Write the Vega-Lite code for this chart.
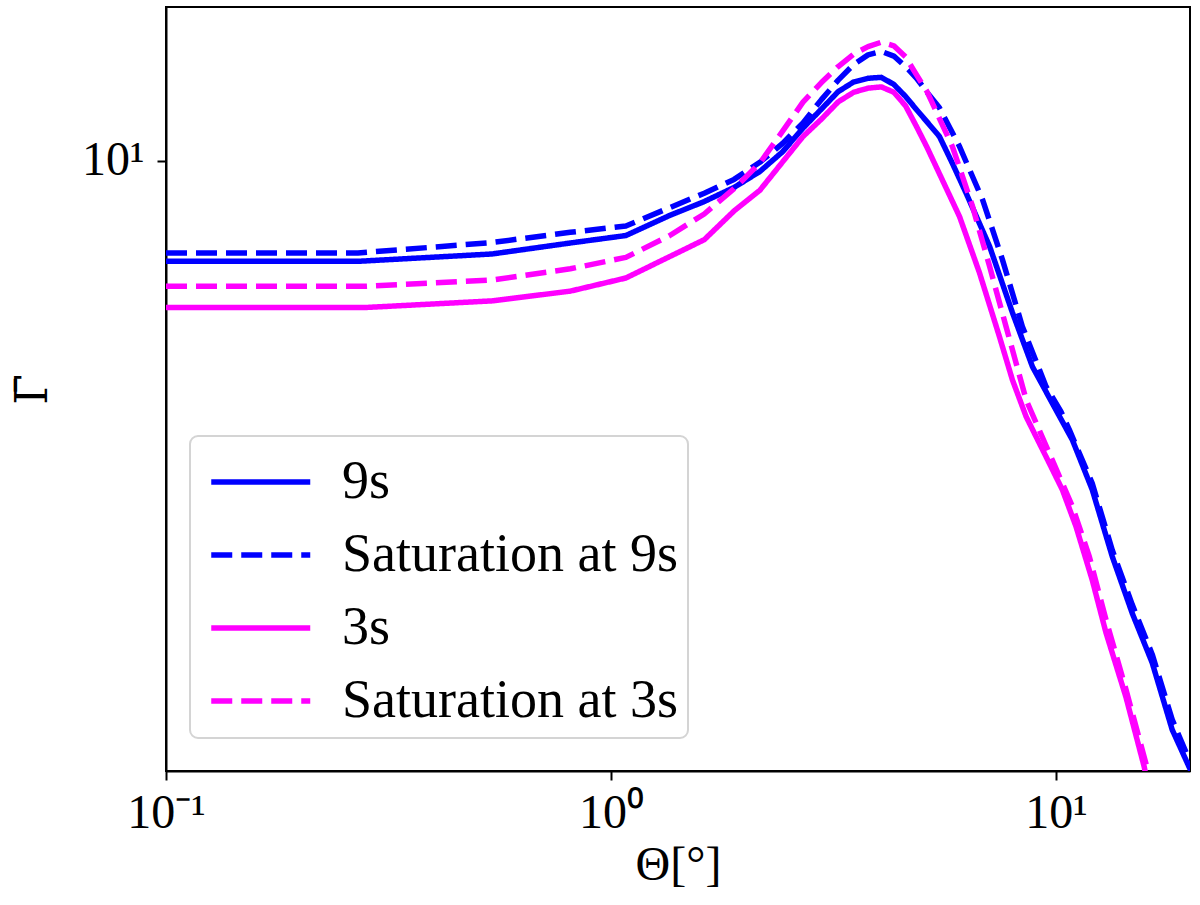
{
  "$schema": "https://vega.github.io/schema/vega-lite/v6.json",
  "width": 1024,
  "height": 764,
  "autosize": {"type": "none"},
  "padding": {"left": 166, "top": 7, "right": 10, "bottom": 134},
  "background": "white",
  "config": {
    "view": {"stroke": "black", "strokeWidth": 2},
    "axis": {
      "grid": false,
      "domainColor": "black",
      "domainWidth": 2,
      "tickColor": "black",
      "tickWidth": 2,
      "tickSize": 9,
      "labelFont": "Liberation Serif",
      "labelFontSize": 48,
      "labelColor": "black",
      "labelFlush": false,
      "labelOverlap": false,
      "titleFont": "Liberation Serif",
      "titleFontSize": 48,
      "titleFontWeight": "normal",
      "titleColor": "black"
    },
    "legend": {
      "labelFont": "Liberation Serif",
      "labelFontSize": 54,
      "labelColor": "black"
    }
  },
  "data": {
    "values": [
      {"series": "9s", "theta": 0.1, "gamma": 7.67},
      {"series": "9s", "theta": 0.27, "gamma": 7.67},
      {"series": "9s", "theta": 0.54, "gamma": 7.82},
      {"series": "9s", "theta": 0.81, "gamma": 8.05},
      {"series": "9s", "theta": 1.08, "gamma": 8.21},
      {"series": "9s", "theta": 1.35, "gamma": 8.65},
      {"series": "9s", "theta": 1.62, "gamma": 8.98},
      {"series": "9s", "theta": 1.89, "gamma": 9.32},
      {"series": "9s", "theta": 2.16, "gamma": 9.72},
      {"series": "9s", "theta": 2.43, "gamma": 10.24},
      {"series": "9s", "theta": 2.7, "gamma": 10.9},
      {"series": "9s", "theta": 2.97, "gamma": 11.46},
      {"series": "9s", "theta": 3.24, "gamma": 12.0},
      {"series": "9s", "theta": 3.51, "gamma": 12.31},
      {"series": "9s", "theta": 3.78, "gamma": 12.43},
      {"series": "9s", "theta": 4.05, "gamma": 12.46},
      {"series": "9s", "theta": 4.32, "gamma": 12.23},
      {"series": "9s", "theta": 4.59, "gamma": 11.85},
      {"series": "9s", "theta": 4.86, "gamma": 11.44},
      {"series": "9s", "theta": 5.13, "gamma": 11.08},
      {"series": "9s", "theta": 5.47, "gamma": 10.66},
      {"series": "9s", "theta": 5.85, "gamma": 9.93},
      {"series": "9s", "theta": 6.28, "gamma": 9.18},
      {"series": "9s", "theta": 7.09, "gamma": 7.98},
      {"series": "9s", "theta": 7.98, "gamma": 6.7},
      {"series": "9s", "theta": 8.85, "gamma": 5.81},
      {"series": "9s", "theta": 10.17, "gamma": 5.1},
      {"series": "9s", "theta": 10.88, "gamma": 4.79},
      {"series": "9s", "theta": 12.06, "gamma": 4.2},
      {"series": "9s", "theta": 13.38, "gamma": 3.52},
      {"series": "9s", "theta": 14.84, "gamma": 3.03},
      {"series": "9s", "theta": 16.45, "gamma": 2.66},
      {"series": "9s", "theta": 18.24, "gamma": 2.23},
      {"series": "9s", "theta": 19.92, "gamma": 2.02},
      {"series": "9s", "theta": 20.5, "gamma": 1.96},

      {"series": "Saturation at 9s", "theta": 0.1, "gamma": 7.84},
      {"series": "Saturation at 9s", "theta": 0.27, "gamma": 7.84},
      {"series": "Saturation at 9s", "theta": 0.54, "gamma": 8.06},
      {"series": "Saturation at 9s", "theta": 0.81, "gamma": 8.28},
      {"series": "Saturation at 9s", "theta": 1.08, "gamma": 8.42},
      {"series": "Saturation at 9s", "theta": 1.35, "gamma": 8.83},
      {"series": "Saturation at 9s", "theta": 1.62, "gamma": 9.18},
      {"series": "Saturation at 9s", "theta": 1.89, "gamma": 9.52},
      {"series": "Saturation at 9s", "theta": 2.16, "gamma": 9.96},
      {"series": "Saturation at 9s", "theta": 2.43, "gamma": 10.47},
      {"series": "Saturation at 9s", "theta": 2.7, "gamma": 11.05},
      {"series": "Saturation at 9s", "theta": 2.97, "gamma": 11.75},
      {"series": "Saturation at 9s", "theta": 3.24, "gamma": 12.37},
      {"series": "Saturation at 9s", "theta": 3.51, "gamma": 12.89},
      {"series": "Saturation at 9s", "theta": 3.78, "gamma": 13.22},
      {"series": "Saturation at 9s", "theta": 4.05, "gamma": 13.34},
      {"series": "Saturation at 9s", "theta": 4.32, "gamma": 13.18},
      {"series": "Saturation at 9s", "theta": 4.59, "gamma": 12.82},
      {"series": "Saturation at 9s", "theta": 4.86, "gamma": 12.43},
      {"series": "Saturation at 9s", "theta": 5.13, "gamma": 11.98},
      {"series": "Saturation at 9s", "theta": 5.47, "gamma": 11.5},
      {"series": "Saturation at 9s", "theta": 6.07, "gamma": 10.38},
      {"series": "Saturation at 9s", "theta": 6.84, "gamma": 9.02},
      {"series": "Saturation at 9s", "theta": 7.58, "gamma": 7.7},
      {"series": "Saturation at 9s", "theta": 8.4, "gamma": 6.46},
      {"series": "Saturation at 9s", "theta": 9.5, "gamma": 5.51},
      {"series": "Saturation at 9s", "theta": 10.26, "gamma": 5.16},
      {"series": "Saturation at 9s", "theta": 10.71, "gamma": 4.92},
      {"series": "Saturation at 9s", "theta": 12.06, "gamma": 4.27},
      {"series": "Saturation at 9s", "theta": 13.38, "gamma": 3.58},
      {"series": "Saturation at 9s", "theta": 14.84, "gamma": 3.1},
      {"series": "Saturation at 9s", "theta": 16.45, "gamma": 2.72},
      {"series": "Saturation at 9s", "theta": 18.24, "gamma": 2.29},
      {"series": "Saturation at 9s", "theta": 19.92, "gamma": 2.06},
      {"series": "Saturation at 9s", "theta": 20.5, "gamma": 2.0},

      {"series": "3s", "theta": 0.1, "gamma": 6.79},
      {"series": "3s", "theta": 0.28, "gamma": 6.79},
      {"series": "3s", "theta": 0.54, "gamma": 6.91},
      {"series": "3s", "theta": 0.81, "gamma": 7.09},
      {"series": "3s", "theta": 1.08, "gamma": 7.34},
      {"series": "3s", "theta": 1.35, "gamma": 7.76},
      {"series": "3s", "theta": 1.62, "gamma": 8.12},
      {"series": "3s", "theta": 1.89, "gamma": 8.76},
      {"series": "3s", "theta": 2.16, "gamma": 9.25},
      {"series": "3s", "theta": 2.43, "gamma": 9.97},
      {"series": "3s", "theta": 2.7, "gamma": 10.66},
      {"series": "3s", "theta": 2.97, "gamma": 11.16},
      {"series": "3s", "theta": 3.24, "gamma": 11.68},
      {"series": "3s", "theta": 3.51, "gamma": 11.98},
      {"series": "3s", "theta": 3.78, "gamma": 12.11},
      {"series": "3s", "theta": 4.05, "gamma": 12.15},
      {"series": "3s", "theta": 4.32, "gamma": 11.98},
      {"series": "3s", "theta": 4.59, "gamma": 11.56},
      {"series": "3s", "theta": 4.86, "gamma": 10.94},
      {"series": "3s", "theta": 5.13, "gamma": 10.36},
      {"series": "3s", "theta": 6.07, "gamma": 8.63},
      {"series": "3s", "theta": 6.73, "gamma": 7.44},
      {"series": "3s", "theta": 7.46, "gamma": 6.29},
      {"series": "3s", "theta": 7.98, "gamma": 5.61},
      {"series": "3s", "theta": 8.57, "gamma": 5.09},
      {"series": "3s", "theta": 9.5, "gamma": 4.58},
      {"series": "3s", "theta": 10.33, "gamma": 4.2},
      {"series": "3s", "theta": 11.09, "gamma": 3.81},
      {"series": "3s", "theta": 12.06, "gamma": 3.31},
      {"series": "3s", "theta": 12.95, "gamma": 2.88},
      {"series": "3s", "theta": 14.36, "gamma": 2.43},
      {"series": "3s", "theta": 15.79, "gamma": 2.02},
      {"series": "3s", "theta": 16.0, "gamma": 1.95},

      {"series": "Saturation at 3s", "theta": 0.1, "gamma": 7.18},
      {"series": "Saturation at 3s", "theta": 0.28, "gamma": 7.18},
      {"series": "Saturation at 3s", "theta": 0.54, "gamma": 7.3},
      {"series": "Saturation at 3s", "theta": 0.81, "gamma": 7.52},
      {"series": "Saturation at 3s", "theta": 1.08, "gamma": 7.75},
      {"series": "Saturation at 3s", "theta": 1.35, "gamma": 8.2},
      {"series": "Saturation at 3s", "theta": 1.62, "gamma": 8.69},
      {"series": "Saturation at 3s", "theta": 1.89, "gamma": 9.29},
      {"series": "Saturation at 3s", "theta": 2.16, "gamma": 9.94},
      {"series": "Saturation at 3s", "theta": 2.43, "gamma": 10.81},
      {"series": "Saturation at 3s", "theta": 2.7, "gamma": 11.67},
      {"series": "Saturation at 3s", "theta": 2.97, "gamma": 12.29},
      {"series": "Saturation at 3s", "theta": 3.24, "gamma": 12.82},
      {"series": "Saturation at 3s", "theta": 3.51, "gamma": 13.25},
      {"series": "Saturation at 3s", "theta": 3.78, "gamma": 13.51},
      {"series": "Saturation at 3s", "theta": 4.05, "gamma": 13.67},
      {"series": "Saturation at 3s", "theta": 4.32, "gamma": 13.54},
      {"series": "Saturation at 3s", "theta": 4.59, "gamma": 13.15},
      {"series": "Saturation at 3s", "theta": 4.86, "gamma": 12.54},
      {"series": "Saturation at 3s", "theta": 5.13, "gamma": 12.0},
      {"series": "Saturation at 3s", "theta": 5.85, "gamma": 10.38},
      {"series": "Saturation at 3s", "theta": 6.49, "gamma": 8.87},
      {"series": "Saturation at 3s", "theta": 7.09, "gamma": 7.57},
      {"series": "Saturation at 3s", "theta": 7.72, "gamma": 6.46},
      {"series": "Saturation at 3s", "theta": 8.57, "gamma": 5.32},
      {"series": "Saturation at 3s", "theta": 9.81, "gamma": 4.54},
      {"series": "Saturation at 3s", "theta": 10.88, "gamma": 4.02},
      {"series": "Saturation at 3s", "theta": 11.88, "gamma": 3.52},
      {"series": "Saturation at 3s", "theta": 12.95, "gamma": 2.98},
      {"series": "Saturation at 3s", "theta": 14.36, "gamma": 2.48},
      {"series": "Saturation at 3s", "theta": 15.92, "gamma": 2.04},
      {"series": "Saturation at 3s", "theta": 16.3, "gamma": 1.95}
    ]
  },
  "mark": {"type": "line", "strokeWidth": 5.5, "clip": true, "strokeCap": "butt", "strokeJoin": "round"},
  "encoding": {
    "x": {
      "field": "theta",
      "type": "quantitative",
      "scale": {"type": "log", "domain": [0.1, 20], "nice": false},
      "axis": {
        "values": [0.1, 1, 10],
        "labelExpr": "datum.value < 0.5 ? '10⁻¹' : (datum.value < 5 ? '10⁰' : '10¹')",
        "title": "Θ[°]",
        "labelPadding": 9,
        "titlePadding": 4
      }
    },
    "y": {
      "field": "gamma",
      "type": "quantitative",
      "scale": {"type": "log", "domain": [2, 15], "nice": false},
      "axis": {
        "values": [10],
        "labelExpr": "'10¹'",
        "title": "Γ̄",
        "titleFont": "DejaVu Serif",
        "titleFontSize": 44,
        "labelPadding": 13,
        "titlePadding": 26
      }
    },
    "color": {
      "field": "series",
      "type": "nominal",
      "scale": {
        "domain": ["9s", "Saturation at 9s", "3s", "Saturation at 3s"],
        "range": ["#0000ff", "#0000ff", "#ff00ff", "#ff00ff"]
      },
      "legend": {
        "orient": "none",
        "legendX": 24,
        "legendY": 429,
        "title": null,
        "symbolType": "M-0.75,0H2.25",
        "symbolSize": 4356,
        "symbolStrokeWidth": 5.5,
        "labelFont": "Liberation Serif",
        "labelFontSize": 54,
        "labelColor": "black",
        "labelOffset": 70,
        "labelLimit": 0,
        "rowPadding": 10,
        "padding": 10,
        "strokeColor": "#d4d4d4",
        "cornerRadius": 8,
        "fillColor": "white",
        "encode": {"legend": {"update": {"strokeWidth": {"value": 2}}}}
      }
    },
    "strokeDash": {
      "field": "series",
      "type": "nominal",
      "scale": {
        "domain": ["9s", "Saturation at 9s", "3s", "Saturation at 3s"],
        "range": [[1, 0], [21, 9], [1, 0], [21, 9]]
      },
      "legend": {
        "orient": "none",
        "legendX": 24,
        "legendY": 429,
        "title": null,
        "symbolType": "M-0.75,0H2.25",
        "symbolSize": 4356,
        "symbolStrokeWidth": 5.5,
        "labelFont": "Liberation Serif",
        "labelFontSize": 54,
        "labelColor": "black",
        "labelOffset": 70,
        "labelLimit": 0,
        "rowPadding": 10,
        "padding": 10,
        "strokeColor": "#d4d4d4",
        "cornerRadius": 8,
        "fillColor": "white",
        "encode": {"legend": {"update": {"strokeWidth": {"value": 2}}}}
      }
    }
  }
}
